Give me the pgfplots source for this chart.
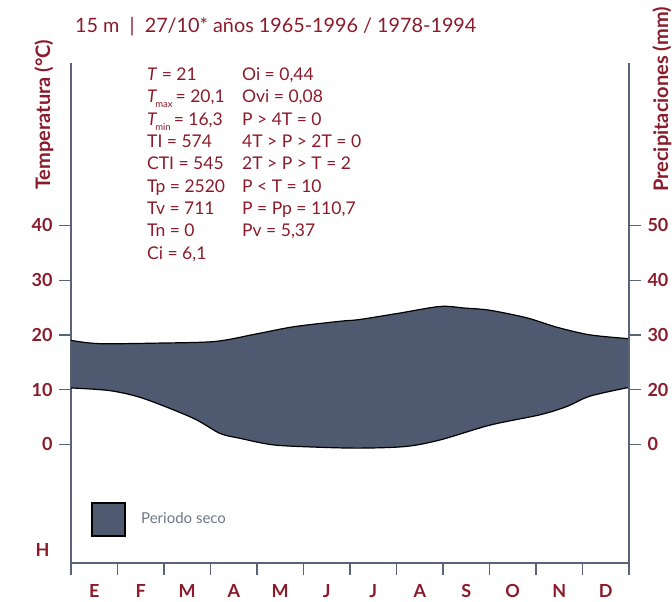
\documentclass[border=0pt]{standalone}
\usepackage{fontspec}
\setmainfont{Lato}
\usepackage{pgfplots}
\pgfplotsset{compat=1.18}
\usepgfplotslibrary{fillbetween}
\definecolor{dred}{RGB}{139,27,42}
\definecolor{axgray}{RGB}{90,100,120}
\definecolor{seco}{RGB}{79,90,112}
\definecolor{leggray}{RGB}{110,118,135}
\newcommand{\tf}{\fontsize{18}{18}\selectfont\bfseries}
\newcommand{\infofont}{\fontsize{17.5}{17.5}\selectfont}
\begin{document}
\begin{tikzpicture}[x=1pt,y=1pt]
\begin{axis}[at={(71pt,39pt)}, anchor=south west, scale only axis,
  width=558pt, height=500pt,
  xmin=0, xmax=12, ymin=-21.7, ymax=69.7, clip=false,
  /pgf/number format/assume math mode=true,
  axis lines*=left,
  axis line style={axgray, line width=1.3pt},
  every tick/.style={axgray, line width=1.3pt},
  tick align=outside, major tick length=12pt,
  xtick={0,1,2,3,4,5,6,7,8,9,10,11,12}, xticklabels={},
  extra x ticks={0.5,1.5,2.5,3.5,4.5,5.5,6.5,7.5,8.5,9.5,10.5,11.5},
  extra x tick labels={E,F,M,A,M,J,J,A,S,O,N,D},
  extra x tick style={major tick length=0pt, tick label style={anchor=base, yshift=-35pt}},
  ytick={0,10,20,30,40},
  extra y ticks={-19.4}, extra y tick labels={H},
  extra y tick style={major tick length=0pt, tick label style={xshift=-15pt}},
  tick label style={font=\tf, text=dred},
  yticklabel style={xshift=-3pt},
]
\addplot[name path=up, smooth, black, line width=1.2pt] coordinates {
(0,19.0) (0.6,18.4) (1.9,18.5) (3.1,18.8) (4.0,20.2) (4.8,21.5) (5.8,22.5) (6.2,22.8)
(7.08,24.0) (7.94,25.2) (8.47,24.9) (9.01,24.5) (9.81,23.1) (10.45,21.4) (11.16,20.0) (12,19.3)};
\addplot[name path=lo, smooth, black, line width=1.2pt] coordinates {
(0,10.3) (0.84,9.8) (1.55,8.4) (2.62,4.8) (3.2,2.0) (3.63,1.1) (4.34,-0.1) (5.2,-0.5) (6.2,-0.7)
(7.2,-0.4) (7.94,0.8) (9.01,3.5) (10.09,5.4) (10.66,6.9) (11.16,8.8) (12,10.4)};
\addplot[seco] fill between[of=up and lo];
\draw[fill=seco, draw=black, line width=2pt] (axis cs:0.456,-10.7) rectangle (axis cs:1.157,-16.8);
\node[anchor=west, inner sep=0, font=\fontsize{15}{15}\selectfont, text=leggray] at (axis cs:1.505,-13.5) {Periodo seco};
\end{axis}
\begin{axis}[at={(71pt,39pt)}, anchor=south west, scale only axis,
  width=558pt, height=500pt,
  xmin=0, xmax=12, ymin=-21.7, ymax=69.7,
  /pgf/number format/assume math mode=true,
  axis x line=none, axis y line*=right,
  axis line style={axgray, line width=1.3pt},
  every tick/.style={axgray, line width=1.3pt},
  tick align=outside, major tick length=12pt,
  ytick={0,10,20,30,40}, yticklabels={0,20,30,40,50},
  tick label style={font=\tf, text=dred},
  yticklabel style={xshift=3pt},
]
\addplot[draw=none] coordinates {(0,0)};
\end{axis}
% title
\node[anchor=base west, inner sep=0, font=\fontsize{19.8}{19.8}\selectfont, text=dred] at (75,569)
  {15 m \ | \ 27/10* años 1965-1996 / 1978-1994};
% axis labels
\node[rotate=90, anchor=west, inner sep=0, font=\fontsize{20}{20}\selectfont\bfseries, text=dred] at (44,412) {Temperatura (°C)};
\node[rotate=90, anchor=west, inner sep=0, font=\fontsize{20}{20}\selectfont\bfseries, text=dred] at (662,410) {Precipitaciones (mm)};
% info block
\begin{scope}[every node/.style={anchor=base west, inner sep=0, font=\infofont, text=dred}]
\node at (147,521.3) {\textit{T} = 21};
\node at (147,499) {\textit{T}\kern-2pt\raisebox{-5pt}{\fontsize{9.5}{9.5}\selectfont max}\kern3pt= 20,1};
\node at (147,476.7) {\textit{T}\kern-2pt\raisebox{-5pt}{\fontsize{9.5}{9.5}\selectfont min}\kern3pt= 16,3};
\node at (147,454.4) {TI = 574};
\node at (147,432.1) {CTI = 545};
\node at (147,409.8) {Tp = 2520};
\node at (147,387.5) {Tv = 711};
\node at (147,365.2) {Tn = 0};
\node at (147,342.9) {Ci = 6,1};
\node at (242,521.3) {Oi = 0,44};
\node at (242,499) {Ovi = 0,08};
\node at (242,476.7) {P > 4T = 0};
\node at (242,454.4) {4T > P > 2T = 0};
\node at (242,432.1) {2T > P > T = 2};
\node at (242,409.8) {P < T = 10};
\node at (242,387.5) {P = Pp = 110,7};
\node at (242,365.2) {Pv = 5,37};
\end{scope}
\pgfresetboundingbox
\useasboundingbox (0,0) rectangle (672,602);
\end{tikzpicture}
\end{document}
